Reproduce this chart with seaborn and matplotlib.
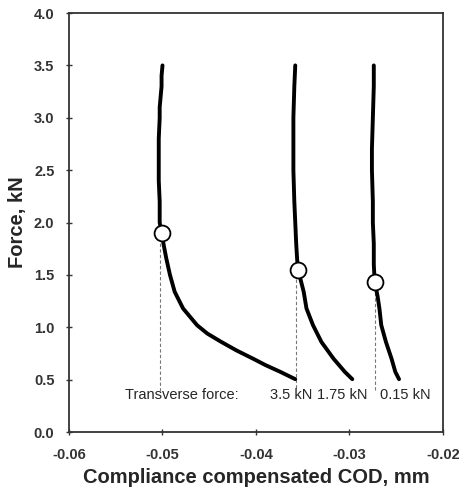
import pandas as pd
import matplotlib
matplotlib.use('Agg')
import matplotlib.pyplot as plt
import seaborn as sns

# force-COD curves for the three transverse force levels
force_35 = [3.50, 3.40, 3.30, 3.20, 3.10, 3.00, 2.80, 2.60, 2.40, 2.20, 2.00, 1.90, 1.80,
            1.66, 1.50, 1.34, 1.18, 1.02, 0.94, 0.86, 0.78, 0.70, 0.64, 0.575, 0.505]
cod_35 = [-0.0500, -0.0501, -0.0501, -0.0502, -0.0503, -0.0503, -0.0504, -0.0504, -0.0504,
          -0.0503, -0.0503, -0.0501, -0.0499, -0.0496, -0.0492, -0.0487, -0.0478, -0.0463,
          -0.0452, -0.0437, -0.0421, -0.0403, -0.0390, -0.0374, -0.0358]

force_175 = [3.50, 3.30, 3.00, 2.70, 2.50, 2.20, 2.00, 1.80, 1.65, 1.55, 1.34, 1.18, 1.02,
             0.86, 0.70, 0.575, 0.505]
cod_175 = [-0.0358, -0.0359, -0.0360, -0.0360, -0.0360, -0.0359, -0.0358, -0.0357, -0.0356,
           -0.0355, -0.0349, -0.0346, -0.0339, -0.0330, -0.0317, -0.0305, -0.0297]

force_015 = [3.50, 3.30, 3.00, 2.70, 2.50, 2.20, 2.00, 1.80, 1.60, 1.43, 1.30, 1.18, 1.02,
             0.86, 0.70, 0.575, 0.505]
cod_015 = [-0.0274, -0.0274, -0.0275, -0.0276, -0.0276, -0.0275, -0.0275, -0.0274, -0.0274,
           -0.0273, -0.0270, -0.0268, -0.0266, -0.0261, -0.0255, -0.0251, -0.0247]

# opening points (circles) and their drop lines
open_cod = [-0.0501, -0.0355, -0.0273]
open_force = [1.90, 1.55, 1.43]
drop_cod = [-0.0503, -0.0357, -0.0273]
drop_top = [1.85, 1.50, 1.38]
drop_bottom = [0.39, 0.42, 0.40]

level_labels = ['3.5 kN', '1.75 kN', '0.15 kN']
label_cod = [-0.0385, -0.0335, -0.0267]

curves = pd.concat([
    pd.DataFrame({'cod': cod_35, 'force': force_35, 'level': '3.5 kN'}),
    pd.DataFrame({'cod': cod_175, 'force': force_175, 'level': '1.75 kN'}),
    pd.DataFrame({'cod': cod_015, 'force': force_015, 'level': '0.15 kN'}),
])

sns.set_style('ticks')
plt.rcParams['font.family'] = ['Liberation Sans', 'DejaVu Sans']

fig = plt.figure(figsize=(4.6, 4.91), dpi=100)
ax = fig.add_axes([0.150, 0.120, 0.813, 0.8535])

for i in range(3):
    ax.plot([drop_cod[i], drop_cod[i]], [drop_bottom[i], drop_top[i]],
            color='#777777', lw=0.8, dashes=(3, 2), zorder=1)

sns.lineplot(data=curves, x='cod', y='force', units='level', estimator=None, sort=False,
             color='black', lw=2.8, ax=ax, legend=False, zorder=2)

sns.scatterplot(x=open_cod, y=open_force, s=130, color='white', edgecolor='black',
                linewidth=1.3, ax=ax, zorder=3)

ax.text(-0.0540, 0.353, 'Transverse force:', fontsize=10.5, va='center', ha='left')
for lab, xc in zip(level_labels, label_cod):
    ax.text(xc, 0.353, lab, fontsize=10.5, va='center', ha='left')

ax.set_xlim(-0.06, -0.02)
ax.set_ylim(0, 4.0)
ax.set_xticks([-0.06, -0.05, -0.04, -0.03, -0.02])
ax.set_xticklabels(['-0.06', '-0.05', '-0.04', '-0.03', '-0.02'])
ax.set_yticks([0, 0.5, 1.0, 1.5, 2.0, 2.5, 3.0, 3.5, 4.0])
ax.set_yticklabels([f'{v:.1f}' for v in [0, 0.5, 1.0, 1.5, 2.0, 2.5, 3.0, 3.5, 4.0]])
ax.tick_params(direction='inout', length=5, width=1, colors='#333333', labelsize=10.5)
ax.tick_params(axis='x', pad=9)
ax.tick_params(axis='y', pad=8)
for lab in ax.get_xticklabels() + ax.get_yticklabels():
    lab.set_fontweight('bold')

for s in ax.spines.values():
    s.set_visible(True)
    s.set_color('#333333')
    s.set_linewidth(1.3)

ax.set_xlabel('Compliance compensated COD, mm', fontsize=14.5, fontweight='bold', labelpad=4)
ax.set_ylabel('Force, kN', fontsize=14.5, fontweight='bold', labelpad=5)

fig.savefig('out.png', dpi=100)
